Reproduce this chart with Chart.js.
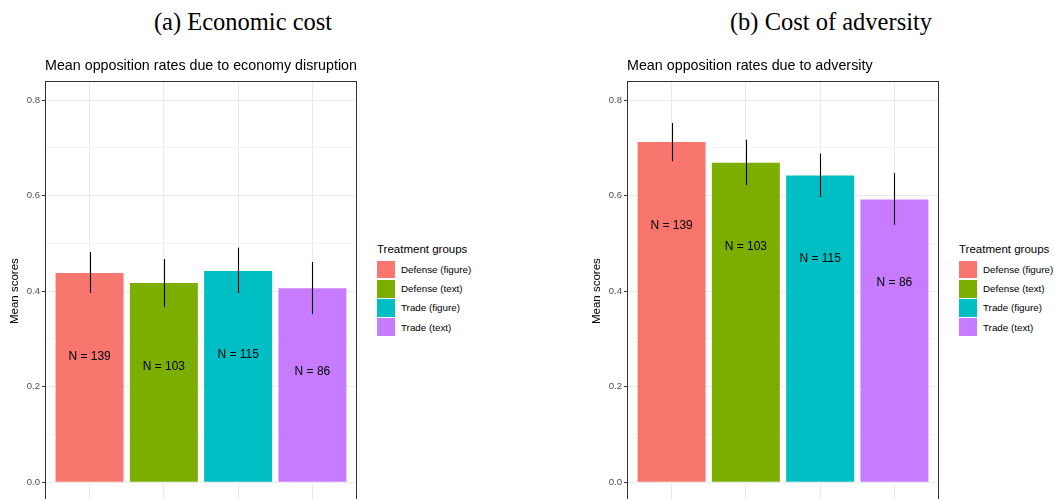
<!DOCTYPE html>
<html><head><meta charset="utf-8">
<script src="https://cdn.jsdelivr.net/npm/chart.js@4/dist/chart.umd.min.js"></script>
<style>
html,body{margin:0;padding:0;background:#fff;width:1055px;height:499px;overflow:hidden;position:relative;font-family:"Liberation Sans",Arial,sans-serif;}
.cap{position:absolute;top:10px;width:320px;text-align:center;font-family:"Liberation Serif","Times New Roman",serif;font-size:24.5px;line-height:24px;color:#000;}
canvas{position:absolute;top:0;}
.legend{position:absolute;top:241px;color:#000;}
.legend .lt{font-size:11.5px;height:16px;line-height:16px;margin-bottom:3px;white-space:nowrap;}
.legend .row{height:19.2px;display:flex;align-items:center;font-size:9.8px;white-space:nowrap;}
.legend .sw{width:17.5px;height:17.5px;margin-right:6.5px;}
</style></head>
<body>
<div class="cap" style="left:83px">(a) Economic cost</div>
<div class="cap" style="left:671px">(b) Cost of adversity</div>
<canvas id="c1" width="370" height="509" style="left:0px"></canvas>
<canvas id="c2" width="370" height="509" style="left:582px"></canvas>
<div class="legend" id="lg1" style="left:377px"></div>
<div class="legend" id="lg2" style="left:959px"></div>
<script>
// ---- data ----
const categories = ['Defense (figure)', 'Defense (text)', 'Trade (figure)', 'Trade (text)'];
const groupColors = ['#F8766D', '#7CAE00', '#00BFC4', '#C77CFF'];
const sampleSizes = [139, 103, 115, 86];
const econMean = [0.438, 0.417, 0.442, 0.406];
const econLow  = [0.396, 0.367, 0.396, 0.352];
const econHigh = [0.482, 0.467, 0.491, 0.461];
const advMean = [0.712, 0.669, 0.642, 0.592];
const advLow  = [0.672, 0.622, 0.597, 0.539];
const advHigh = [0.752, 0.717, 0.688, 0.647];
const legendTitle = 'Treatment groups';
const yTitle = 'Mean scores';
const labelOffset = 0.175;
const FONT = '"Liberation Sans", Arial, sans-serif';

const isMajor = v => Math.round(v * 10) % 2 === 0;

const overlay = {
  id: 'overlay',
  afterDatasetsDraw(chart, args, o) {
    const {ctx, scales: {x, y}} = chart;
    ctx.save();
    ctx.strokeStyle = '#000';
    ctx.lineWidth = 1.1;
    o.low.forEach((lo, i) => {
      const px = Math.round(x.getPixelForValue(i + 1)) + 0.5;
      ctx.beginPath();
      ctx.moveTo(px, y.getPixelForValue(lo));
      ctx.lineTo(px, y.getPixelForValue(o.high[i]));
      ctx.stroke();
    });
    ctx.fillStyle = '#000';
    ctx.font = '12px ' + FONT;
    ctx.textAlign = 'center';
    ctx.textBaseline = 'middle';
    o.mean.forEach((m, i) => {
      ctx.fillText('N = ' + o.n[i], x.getPixelForValue(i + 1), y.getPixelForValue(m - labelOffset));
    });
    const a = chart.chartArea;
    ctx.strokeStyle = '#333';
    ctx.lineWidth = 1;
    ctx.strokeRect(Math.round(a.left) + 0.5, Math.round(a.top) + 0.5, Math.round(a.width) - 1, Math.round(a.height) - 1);
    ctx.restore();
  }
};

function makeChart(id, title, mean, low, high) {
  return new Chart(document.getElementById(id), {
    type: 'bar',
    data: {
      datasets: [{
        data: mean.map((m, i) => ({x: i + 1, y: m})),
        backgroundColor: groupColors,
        borderWidth: 0,
        barPercentage: 0.915,
        categoryPercentage: 1
      }]
    },
    options: {
      responsive: false,
      animation: false,
      devicePixelRatio: 1,
      layout: {padding: {left: 0, right: 13, top: 0, bottom: 1.5}},
      plugins: {
        legend: {display: false},
        tooltip: {enabled: false},
        title: {
          display: true, text: title, align: 'start', fullSize: false, color: '#000',
          font: {size: 14.3, family: FONT, weight: 'normal', lineHeight: 1.2},
          padding: {top: 57, bottom: 6.8}
        },
        overlay: {mean: mean, low: low, high: high, n: sampleSizes}
      },
      scales: {
        x: {
          type: 'linear', min: 0.4, max: 4.6, offset: false,
          ticks: {display: false, stepSize: 1, includeBounds: false},
          grid: {color: '#EBEBEB', lineWidth: 1, drawTicks: false, offset: false},
          border: {display: false},
          afterFit(s) { s.height = 0; }
        },
        y: {
          min: -0.04, max: 0.84,
          ticks: {
            stepSize: 0.1, includeBounds: false, autoSkip: false,
            color: '#4D4D4D', font: {size: 9.5, family: FONT}, padding: 2,
            callback: v => isMajor(v) ? v.toFixed(1) : ''
          },
          grid: {
            color: c => isMajor(c.tick.value) ? '#EBEBEB' : '#F3F3F3',
            lineWidth: 1, tickLength: 3,
            tickColor: c => isMajor(c.tick.value) ? '#333' : 'rgba(0,0,0,0)'
          },
          border: {display: false},
          title: {display: true, text: yTitle, color: '#000', font: {size: 11.5, family: FONT}, padding: {top: 8, bottom: 0}},
          afterFit(s) { s.width = 45; }
        }
      }
    },
    plugins: [overlay]
  });
}

function makeLegend(id) {
  const el = document.getElementById(id);
  let h = '<div class="lt">' + legendTitle + '</div>';
  categories.forEach((c, i) => {
    h += '<div class="row"><div class="sw" style="background:' + groupColors[i] + '"></div><span>' + c + '</span></div>';
  });
  el.innerHTML = h;
}

makeChart('c1', 'Mean opposition rates due to economy disruption', econMean, econLow, econHigh);
makeChart('c2', 'Mean opposition rates due to adversity', advMean, advLow, advHigh);
makeLegend('lg1');
makeLegend('lg2');
</script>
</body></html>
